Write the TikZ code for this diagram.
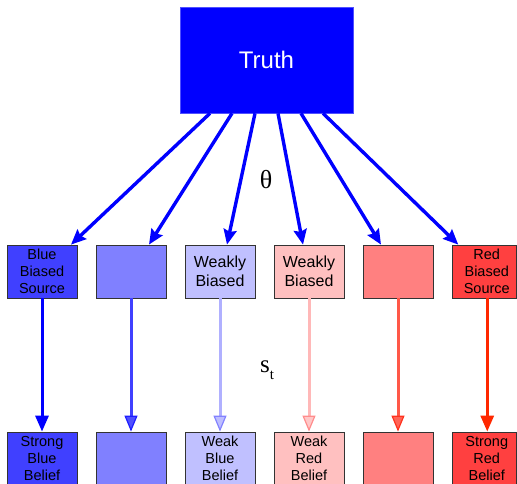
\documentclass[tikz,border=0pt]{standalone}
\usepackage{fontspec}
\setmainfont{Liberation Sans}
\newfontfamily\serifx{Liberation Serif}
\usetikzlibrary{arrows.meta}
\definecolor{pblue}{RGB}{0,0,255}
\definecolor{tborder}{RGB}{80,80,255}
\definecolor{b1}{HTML}{4040FF}
\definecolor{b2}{HTML}{8080FF}
\definecolor{b3}{HTML}{C0C0FF}
\definecolor{r3}{HTML}{FFC0C0}
\definecolor{r2}{HTML}{FF8080}
\definecolor{r1}{HTML}{FF4040}
\definecolor{l2}{RGB}{64,64,255}
\definecolor{l2f}{RGB}{80,80,255}
\definecolor{l2d}{RGB}{30,30,255}
\definecolor{l3}{RGB}{176,176,255}
\definecolor{l3f}{RGB}{190,190,255}
\definecolor{l3d}{RGB}{130,130,255}
\definecolor{l4}{RGB}{255,184,184}
\definecolor{l4f}{RGB}{255,200,200}
\definecolor{l4d}{RGB}{255,140,140}
\definecolor{l5}{RGB}{255,88,72}
\definecolor{l5f}{RGB}{255,100,86}
\definecolor{l5d}{RGB}{255,50,30}
\definecolor{l6}{RGB}{255,40,0}
\begin{document}
\begin{tikzpicture}[x=1pt,y=-1pt,
  box/.style={draw=black!80, line width=0.8pt, minimum width=70pt, minimum height=53pt,
    inner sep=0pt, align=center, font=\fontsize{14.5}{17}\selectfont},
  edgebox/.style={box, minimum width=64.5pt},
  bigtxt/.style={font=\fontsize{16}{19}\selectfont},
  diag/.style={-{Stealth[length=15pt,width=13pt,inset=2pt]}, line width=3.4pt, draw=pblue},
  vert/.style={line width=3pt}]
\useasboundingbox (0,0) rectangle (517,484);

\node[fill=pblue, draw=tborder, line width=0.6pt,
  minimum width=173pt, minimum height=106pt, text=white, font=\fontsize{24}{24}\selectfont]
  (truth) at (266.5,60) {Truth};

% middle row
\node[box, fill=b1] (m1) at (42,271.5) {Blue\\Biased\\Source};
\node[box, fill=b2] (m2) at (131,271.5) {};
\node[box, fill=b3, bigtxt] (m3) at (220,271.5) {Weakly\\Biased};
\node[box, fill=r3, bigtxt] (m4) at (309,271.5) {Weakly\\Biased};
\node[box, fill=r2] (m5) at (398,271.5) {};
\node[edgebox, fill=r1] (m6) at (484.25,271.5) {\hspace*{5pt}Red\\\hspace*{5pt}Biased\\\hspace*{5pt}Source};

% bottom row
\node[box, fill=b1] (b1n) at (42,458.5) {Strong\\Blue\\Belief};
\node[box, fill=b2] (b2n) at (131,458.5) {};
\node[box, fill=b3] (b3n) at (220,458.5) {Weak\\Blue\\Belief};
\node[box, fill=r3] (b4n) at (309,458.5) {Weak\\Red\\Belief};
\node[box, fill=r2] (b5n) at (398,458.5) {};
\node[edgebox, fill=r1] (b6n) at (484.25,458.5) {\hspace*{5pt}Strong\\\hspace*{5pt}Red\\\hspace*{5pt}Belief};

% diagonal arrows
\draw[diag] ([xshift=-56.5pt]truth.south) -- ([xshift=29pt]m1.north);
\draw[diag] ([xshift=-34.5pt]truth.south) -- ([xshift=18pt]m2.north);
\draw[diag] ([xshift=-11.5pt]truth.south) -- ([xshift=7pt]m3.north);
\draw[diag] ([xshift=11.5pt]truth.south) -- ([xshift=-6pt]m4.north);
\draw[diag] ([xshift=34.5pt]truth.south) -- ([xshift=-17pt]m5.north);
\draw[diag] ([xshift=56.5pt]truth.south) -- ([xshift=-26pt]m6.north);

% vertical arrows
\draw[vert, draw=pblue,
  -{Triangle[length=16pt,width=13pt,fill=pblue,color=pblue]}] (m1.south) -- (b1n.north);
\draw[vert, draw=l2,
  -{Triangle[length=16pt,width=13pt,line width=1.2pt,fill=l2f,color=l2d]}] (m2.south) -- (b2n.north);
\draw[vert, draw=l3,
  -{Triangle[length=16pt,width=13pt,line width=1.2pt,fill=l3f,color=l3d]}] (m3.south) -- (b3n.north);
\draw[vert, draw=l4,
  -{Triangle[length=16pt,width=13pt,line width=1.2pt,fill=l4f,color=l4d]}] (m4.south) -- (b4n.north);
\draw[vert, draw=l5,
  -{Triangle[length=16pt,width=13pt,line width=1.2pt,fill=l5f,color=l5d]}] (m5.south) -- (b5n.north);
\draw[vert, draw=l6,
  -{Triangle[length=16pt,width=13pt,fill=l6,color=l6]}] ([xshift=3pt]m6.south) -- ([xshift=3pt]b6n.north);

% labels
\node[font=\serifx\fontsize{26}{26}\selectfont, inner sep=0pt] (theta) at (266,180) {θ};
\node[font=\serifx\fontsize{25}{25}\selectfont, inner sep=0pt, anchor=base west] (st) at (260,372)
  {s\raisebox{-7pt}{\fontsize{15}{15}\selectfont t}};
\end{tikzpicture}
\end{document}
